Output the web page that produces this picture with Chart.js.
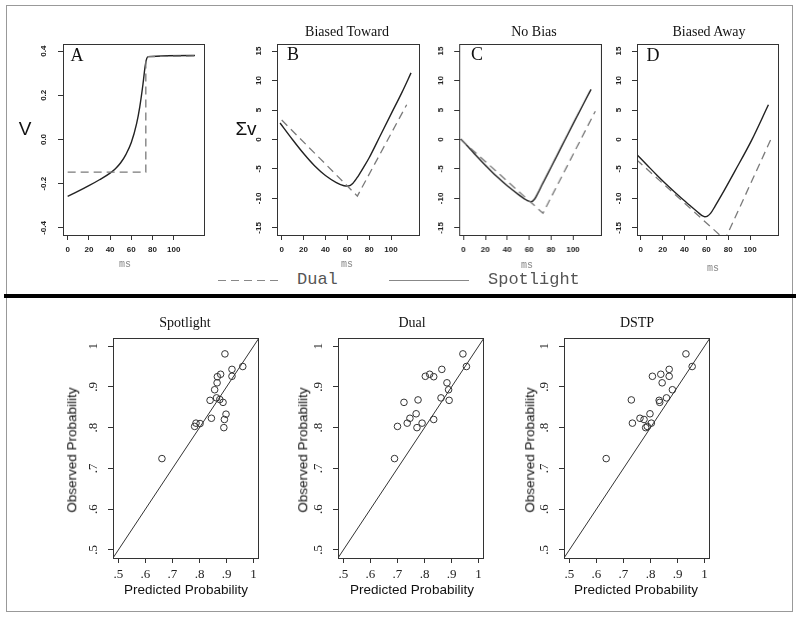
<!DOCTYPE html>
<html>
<head>
<meta charset="utf-8">
<script src="https://cdn.jsdelivr.net/npm/chart.js@4.4.0/dist/chart.umd.min.js"></script>
<style>
  body { margin: 0; background: #fff; width: 800px; height: 618px; position: relative; overflow: hidden; }
  canvas { position: absolute; }
  .t { position: absolute; white-space: nowrap; line-height: 1; transform: translate(-50%, -50%); z-index: 2; }
  .serif { font-family: 'Liberation Serif', serif; color: #111; }
  .sans { font-family: 'Liberation Sans', sans-serif; color: #111; }
  .mono { font-family: 'Liberation Mono', monospace; }
  .rot { transform: translate(-50%, -50%) rotate(-90deg); }
  .frame { position: absolute; border: 1px solid #999; box-sizing: border-box; }
</style>
</head>
<body>
<div class="frame" style="left:6px;top:5px;width:787px;height:291px"></div>
<div class="frame" style="left:6px;top:296px;width:787px;height:316px"></div>
<div style="position:absolute;left:4px;top:294px;width:792px;height:4px;background:#000;z-index:3"></div>

<canvas id="pA"></canvas>
<canvas id="pB"></canvas>
<canvas id="pC"></canvas>
<canvas id="pD"></canvas>
<canvas id="pSpot"></canvas>
<canvas id="pDual"></canvas>
<canvas id="pDstp"></canvas>

<!-- top row text -->
<div class="t sans" style="left:25px;top:128px;font-size:19px">V</div>
<div class="t sans" style="left:246px;top:128px;font-size:19px">Σv</div>
<div class="t serif" style="left:77px;top:55px;font-size:18px">A</div>
<div class="t serif" style="left:293px;top:54px;font-size:18px">B</div>
<div class="t serif" style="left:477px;top:54px;font-size:18px">C</div>
<div class="t serif" style="left:653px;top:55px;font-size:18px">D</div>
<div class="t serif" style="left:347px;top:32px;font-size:14px">Biased Toward</div>
<div class="t serif" style="left:534px;top:32px;font-size:14px">No Bias</div>
<div class="t serif" style="left:709px;top:32px;font-size:14px">Biased Away</div>
<div class="t mono" style="left:125px;top:265px;font-size:10px;color:#888">ms</div>
<div class="t mono" style="left:347px;top:265px;font-size:10px;color:#888">ms</div>
<div class="t mono" style="left:527px;top:266px;font-size:10px;color:#888">ms</div>
<div class="t mono" style="left:713px;top:269px;font-size:10px;color:#888">ms</div>

<!-- legend -->
<svg style="position:absolute;left:0;top:0;width:800px;height:300px;z-index:1" width="800" height="300">
  <line x1="218" y1="280.5" x2="283" y2="280.5" stroke="#888" stroke-width="1.2" stroke-dasharray="8,5"/>
  <line x1="389" y1="280.5" x2="469" y2="280.5" stroke="#888" stroke-width="1.2"/>
</svg>
<div class="mono" style="position:absolute;left:297px;top:271px;font-size:17px;line-height:1;color:#555">Dual</div>
<div class="mono" style="position:absolute;left:488px;top:271px;font-size:17px;line-height:1;color:#555">Spotlight</div>

<!-- bottom row text -->
<div class="t serif" style="left:185px;top:323px;font-size:14px">Spotlight</div>
<div class="t serif" style="left:412px;top:323px;font-size:14px">Dual</div>
<div class="t serif" style="left:637px;top:323px;font-size:14px">DSTP</div>
<div class="t sans rot" style="left:72px;top:450px;font-size:13.5px">Observed Probability</div>
<div class="t sans rot" style="left:303px;top:450px;font-size:13.5px">Observed Probability</div>
<div class="t sans rot" style="left:530px;top:450px;font-size:13.5px">Observed Probability</div>
<div class="t sans" style="left:186px;top:590px;font-size:13.5px">Predicted Probability</div>
<div class="t sans" style="left:412px;top:590px;font-size:13.5px">Predicted Probability</div>
<div class="t sans" style="left:636px;top:590px;font-size:13.5px">Predicted Probability</div>

<script>
// ---- tick values ----
const msTicks = [0, 20, 40, 60, 80, 100];
const msLabels = ['0', '20', '40', '60', '80', '100'];
const vTicks = [-0.4, -0.2, 0, 0.2, 0.4];
const vLabels = ['-0.4', '-0.2', '0.0', '0.2', '0.4'];
const sumTicks = [-15, -10, -5, 0, 5, 10, 15];
const sumLabels = ['-15', '-10', '-5', '0', '5', '10', '15'];
const probTicks = [0.5, 0.6, 0.7, 0.8, 0.9, 1];
const probLabels = ['.5', '.6', '.7', '.8', '.9', '1'];

// ---- panel A (V over ms) ----
const aSpotX = [0, 10, 20, 30, 40, 45, 50, 55, 60, 65, 68, 71, 73, 74.5, 76, 120];
const aSpotY = [-0.257, -0.234, -0.209, -0.182, -0.152, -0.132, -0.105, -0.067, -0.014, 0.072, 0.148, 0.25, 0.33, 0.366, 0.375, 0.38];
const aDualX = [0, 73.7, 73.7, 120];
const aDualY = [-0.148, -0.148, 0.375, 0.378];

// ---- panel B (biased toward) ----
const bSpotX = [-1.5, 10, 21, 30, 40, 50, 57, 61, 65, 70, 75, 80, 90, 100, 110, 118.3];
const bSpotY = [2.8, -0.05, -2.6, -4.45, -6.1, -7.3, -7.85, -7.9, -7.45, -6.2, -4.7, -3.1, 0.6, 4.3, 8.0, 11.3];
const bDualX = [0, 69.2, 114.3];
const bDualY = [3.3, -9.6, 5.9];

// ---- panel C (no bias) ----
const cSpotX = [-2.4, 10, 20, 30, 40, 50, 56, 60, 62, 65, 68, 72, 80, 90, 100, 110, 116.5];
const cSpotY = [0.1, -2.4, -4.35, -6.2, -7.85, -9.3, -10.1, -10.5, -10.55, -10.1, -9.1, -7.6, -4.7, -1.05, 2.6, 6.2, 8.5];
const cDualX = [-2.4, 72.6, 120.4];
const cDualY = [0, -12.5, 4.8];

// ---- panel D (biased away) ----
const dSpotX = [-4, 5, 15, 25, 35, 45, 52, 56, 58.5, 61, 64, 68, 74, 86, 101.5, 116.8];
const dSpotY = [-2.5, -4.2, -6.1, -7.9, -9.6, -11.2, -12.3, -12.9, -13.1, -13.0, -12.5, -11.3, -9.4, -5.4, -0.1, 5.9];
const dDualX = [-4, 77, 119];
const dDualY = [-3.4, -17, 0];

// ---- bottom row: predicted vs observed ----
const spotPred = [0.894, 0.960, 0.920, 0.878, 0.920, 0.866, 0.865, 0.856, 0.863, 0.875, 0.839, 0.887, 0.898, 0.844, 0.892, 0.787, 0.802, 0.782, 0.890, 0.661];
const spotObs  = [0.981, 0.950, 0.943, 0.931, 0.926, 0.925, 0.910, 0.893, 0.873, 0.869, 0.867, 0.862, 0.833, 0.823, 0.820, 0.811, 0.810, 0.803, 0.800, 0.724];
const dualPred = [0.942, 0.955, 0.864, 0.819, 0.803, 0.834, 0.883, 0.889, 0.861, 0.776, 0.891, 0.724, 0.769, 0.746, 0.834, 0.736, 0.791, 0.700, 0.772, 0.689];
const dualObs  = [0.981, 0.950, 0.943, 0.931, 0.926, 0.925, 0.910, 0.893, 0.873, 0.868, 0.867, 0.862, 0.834, 0.823, 0.820, 0.811, 0.811, 0.803, 0.800, 0.724];
const dstpPred = [0.931, 0.954, 0.869, 0.838, 0.807, 0.869, 0.843, 0.881, 0.859, 0.729, 0.832, 0.834, 0.798, 0.761, 0.776, 0.733, 0.803, 0.788, 0.782, 0.636];
const dstpObs  = [0.981, 0.950, 0.943, 0.931, 0.926, 0.926, 0.910, 0.893, 0.873, 0.868, 0.867, 0.862, 0.834, 0.823, 0.820, 0.811, 0.811, 0.803, 0.800, 0.724];
const refLine = [0.4, 1.1];

const pts = (xs, ys) => xs.map((x, i) => ({ x, y: ys[i] }));

const sansTick = { family: 'Liberation Sans', size: 8, weight: 'bold' };
const serifTick = { family: 'Liberation Serif', size: 13 };

// draws the R-style box around the plot region
const boxPlugin = {
  id: 'box',
  afterDraw(chart) {
    const { ctx, chartArea: a } = chart;
    ctx.save();
    ctx.strokeStyle = '#333';
    ctx.lineWidth = 1;
    ctx.strokeRect(Math.round(a.left) + 0.5, Math.round(a.top) + 0.5, Math.round(a.width) - 1, Math.round(a.height));
    ctx.restore();
  }
};

function axis(min, max, ticks, labels, font, pad, size, vertical) {
  return {
    type: 'linear', min, max,
    afterBuildTicks: s => { s.ticks = ticks.map(v => ({ value: v })); },
    afterFit: s => { if (vertical) s.width = size; else s.height = size; },
    ticks: {
      font, color: '#222', padding: pad, autoSkip: false,
      minRotation: vertical ? 90 : 0, maxRotation: vertical ? 90 : 0,
      crossAlign: vertical ? 'center' : 'near',
      callback: (v, i) => labels[i]
    },
    grid: { drawOnChartArea: false, drawTicks: true, tickLength: 5, color: '#333' },
    border: { display: false }
  };
}

function panel(id, box, datasets, xScale, yScale) {
  const padT = 26, padR = 10;
  const c = document.getElementById(id);
  const w = box.r - box.l + box.padL + padR;
  const h = box.b - box.t + padT + box.padB;
  c.width = w; c.height = h;
  c.style.left = (box.l - box.padL) + 'px';
  c.style.top = (box.t - padT) + 'px';
  c.style.width = w + 'px'; c.style.height = h + 'px';
  new Chart(c, {
    type: 'scatter',
    data: { datasets },
    options: {
      responsive: false, animation: false,
      layout: { padding: { top: padT, right: padR, left: 0, bottom: 0 } },
      plugins: { legend: { display: false }, tooltip: { enabled: false } },
      scales: { x: xScale, y: yScale }
    },
    plugins: [boxPlugin]
  });
}

const solid = (xs, ys) => ({
  data: pts(xs, ys), showLine: true, pointRadius: 0, borderColor: '#222',
  borderWidth: 1.4, cubicInterpolationMode: 'monotone'
});
const dashed = (xs, ys) => ({
  data: pts(xs, ys), showLine: true, pointRadius: 0, borderColor: '#7a7a7a',
  borderWidth: 1.3, borderDash: [8, 5], tension: 0
});

const topBox = (l, r) => ({ l, r, t: 44, b: 235, padL: 30, padB: 26 });
const msAxis = (min, max) => axis(min, max, msTicks, msLabels, sansTick, 5, 26, false);
const sumAxis = axis(-16.2, 16.2, sumTicks, sumLabels, sansTick, 7, 30, true);

panel('pA', topBox(63, 205), [dashed(aDualX, aDualY), solid(aSpotX, aSpotY)],
  msAxis(-4.4, 129.5), axis(-0.432, 0.432, vTicks, vLabels, sansTick, 7, 30, true));
panel('pB', topBox(277, 420), [dashed(bDualX, bDualY), solid(bSpotX, bSpotY)], msAxis(-4.3, 126.5), sumAxis);
panel('pC', topBox(459, 601.5), [dashed(cDualX, cDualY), solid(cSpotX, cSpotY)], msAxis(-3.9, 126.5), sumAxis);
panel('pD', topBox(637, 779), [dashed(dDualX, dDualY), solid(dSpotX, dSpotY)], msAxis(-3.5, 126.5), sumAxis);

const probBox = (l, r) => ({ l, r, t: 338, b: 558, padL: 35, padB: 30 });
const probX = axis(0.48, 1.02, probTicks, probLabels, serifTick, 4, 30, false);
const probY = axis(0.48, 1.02, probTicks, probLabels, serifTick, 10, 35, true);
const scatterSet = (xs, ys) => [
  { data: pts(refLine, refLine), showLine: true, pointRadius: 0, borderColor: '#333', borderWidth: 1 },
  { data: pts(xs, ys), pointRadius: 3.3, pointStyle: 'circle', borderColor: '#333',
    backgroundColor: 'rgba(0,0,0,0)', borderWidth: 1 }
];

panel('pSpot', probBox(113, 259), scatterSet(spotPred, spotObs), probX, probY);
panel('pDual', probBox(338, 484), scatterSet(dualPred, dualObs), probX, probY);
panel('pDstp', probBox(564, 710), scatterSet(dstpPred, dstpObs), probX, probY);
</script>
</body>
</html>
